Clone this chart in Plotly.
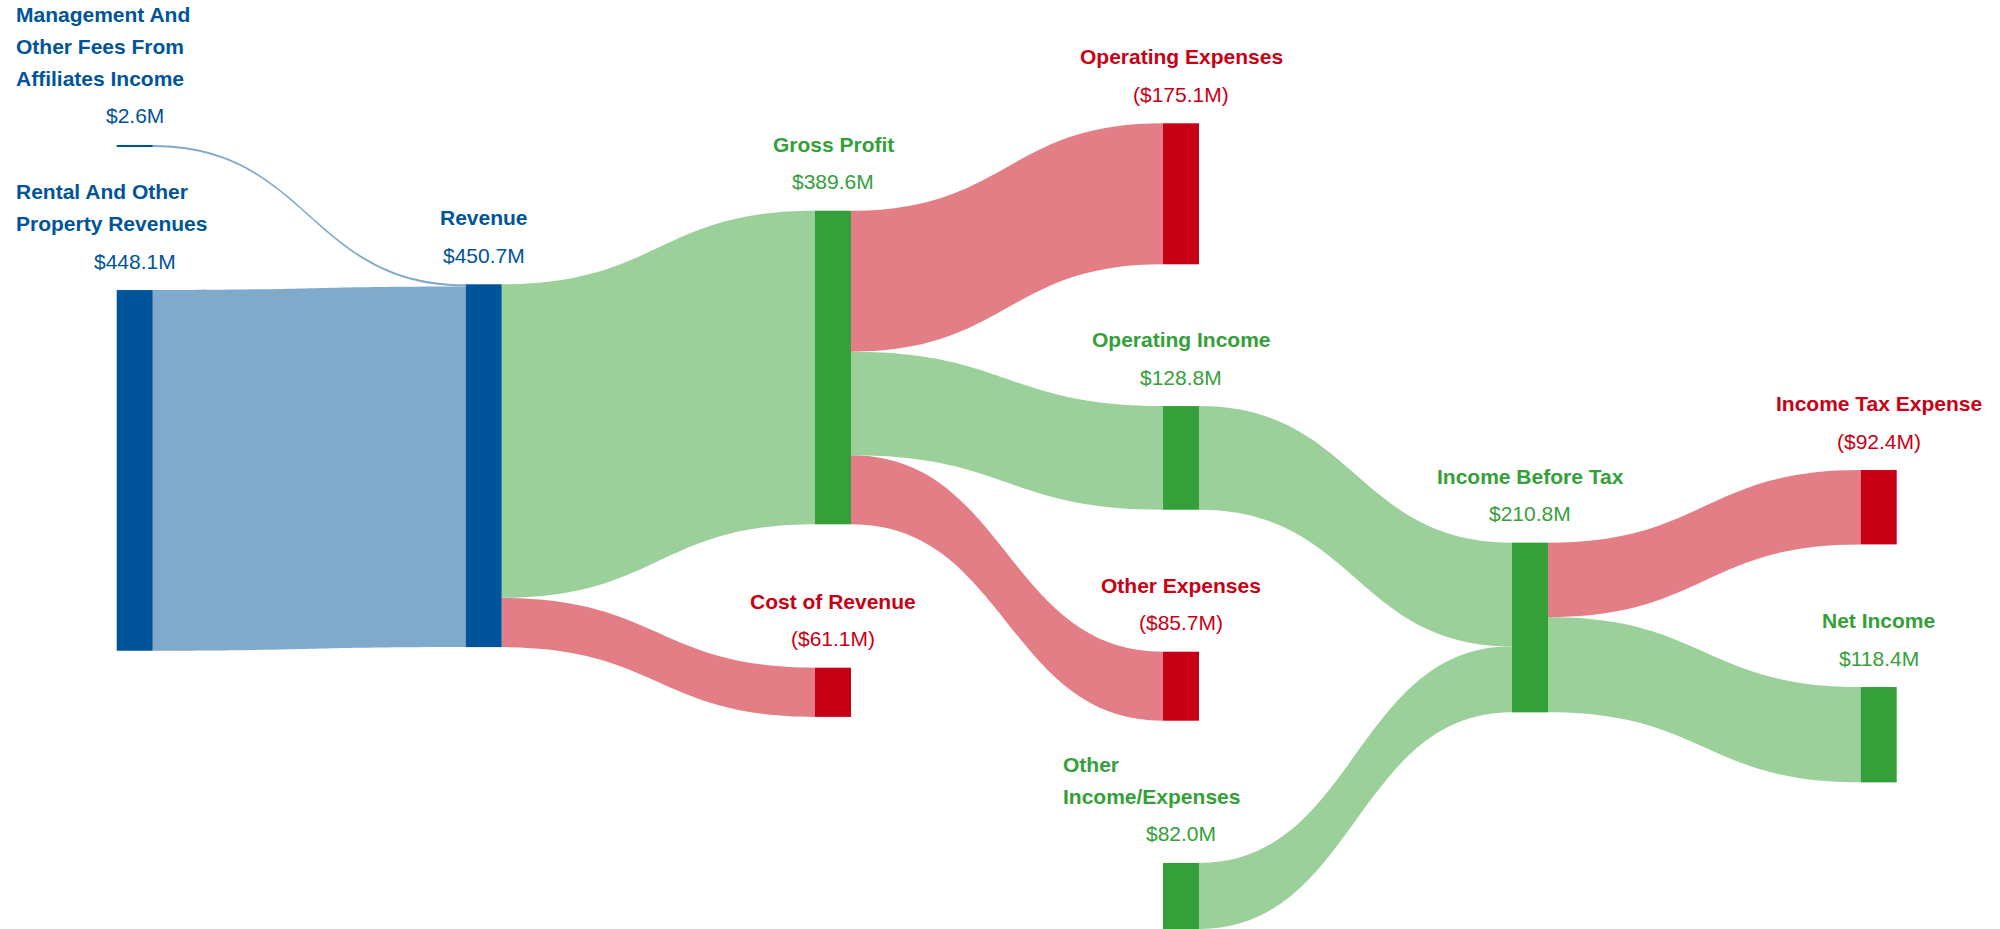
import textwrap
import plotly.graph_objects as go

# node names and kinds (revenue = blue, profit = green, expense = red)
nodes = [
    "Management And Other Fees From Affiliates Income",
    "Rental And Other Property Revenues",
    "Revenue",
    "Gross Profit",
    "Cost of Revenue",
    "Operating Expenses",
    "Operating Income",
    "Other Expenses",
    "Other Income/Expenses",
    "Income Before Tax",
    "Income Tax Expense",
    "Net Income",
]
node_kind = ["revenue", "revenue", "revenue", "profit", "expense", "expense",
             "profit", "expense", "profit", "profit", "expense", "profit"]

# flows in $M
link_source = [0, 1, 2, 2, 3, 3, 3, 6, 8, 9, 9]
link_target = [2, 2, 3, 4, 5, 6, 7, 9, 9, 10, 11]
link_value = [2.6, 448.1, 389.6, 61.1, 175.1, 128.8, 85.7, 128.8, 82.0, 92.4, 118.4]

# ---- layout (pixels) ----
W, H = 2000, 929
node_cx = [134.7, 134.7, 483.7, 833, 833, 1181, 1181, 1181, 1181, 1530, 1878.7, 1878.7]
node_cy = [146.0, 470.4, 465.7, 367.5, 692.3, 193.8, 457.9, 686.2, 896.0, 627.5, 507.2, 734.7]
ky = 0.805  # px per $M
font = "Liberation Sans, Arial, sans-serif"
fs = 21

node_color = {"revenue": "#00549A", "profit": "#35A03A", "expense": "#C80016"}
link_color = {"revenue": "#7FAACB", "profit": "#9BD09B", "expense": "#E47E86"}

# node totals
vin = [0.0] * len(nodes)
vout = [0.0] * len(nodes)
for s, t, v in zip(link_source, link_target, link_value):
    vout[s] += v
    vin[t] += v
node_value = [max(a, b) for a, b in zip(vin, vout)]

# padding chosen so the sink column (5 nodes) gives the wanted scale
sink_total = sum(v for v, o in zip(node_value, vout) if o == 0)
pad = (H - ky * sink_total) / 4

fig = go.Figure(go.Sankey(
    arrangement="fixed",
    node=dict(
        label=["" for _ in nodes],
        customdata=nodes,
        hovertemplate="%{customdata}: $%{value:.1f}M<extra></extra>",
        x=[x / W for x in node_cx],
        y=[y / H for y in node_cy],
        pad=pad,
        thickness=36,
        color=[node_color[k] for k in node_kind],
        line=dict(width=0),
    ),
    link=dict(
        source=link_source,
        target=link_target,
        value=link_value,
        color=[link_color[node_kind[t]] for t in link_target],
        line=dict(width=0),
    ),
))

annotations = []
for i, name in enumerate(nodes):
    col = node_color[node_kind[i]]
    top = node_cy[i] - node_value[i] * ky / 2
    val = "$%.1fM" % node_value[i]
    if node_kind[i] == "expense":
        val = "(" + val + ")"
    annotations.append(dict(
        x=node_cx[i] / W, y=1 - (top - 29) / H, xref="paper", yref="paper",
        text=val, showarrow=False, xanchor="center", yanchor="middle",
        font=dict(family=font, size=fs, color=col)))
    lines = textwrap.wrap(name, 18)
    for j, line in enumerate(reversed(lines)):
        yc = top - 66.5 - 32 * j
        if len(lines) > 1:
            ax, anchor = (node_cx[i] - 120.5) / W, "left"
        else:
            ax, anchor = node_cx[i] / W, "center"
        annotations.append(dict(
            x=ax, y=1 - yc / H, xref="paper", yref="paper",
            text="<b>" + line + "</b>", showarrow=False, xanchor=anchor,
            yanchor="middle", font=dict(family=font, size=fs, color=col)))

fig.update_layout(
    width=W, height=H,
    margin=dict(l=0, r=0, t=0, b=0),
    paper_bgcolor="white",
    plot_bgcolor="white",
    font=dict(family=font, size=fs),
    annotations=annotations,
)

# drop the browser's default body margin so the figure sits at the page corner
fig.write_html("out.html", config={"displayModeBar": False},
               post_script="document.body.style.margin = '0';")
